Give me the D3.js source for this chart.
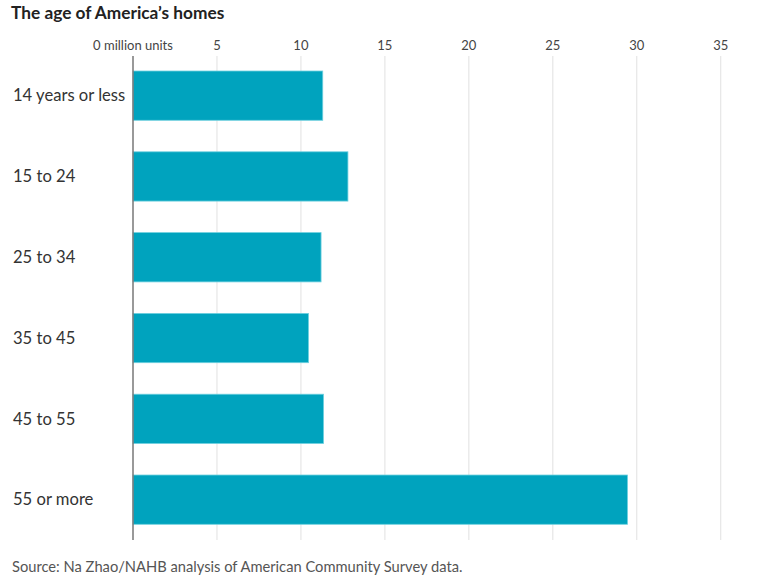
<!DOCTYPE html>
<html>
<head>
<meta charset="utf-8">
<script src="https://cdn.jsdelivr.net/npm/d3@7"></script>
<style>
  body { margin: 0; background: #fff; }
  text { font-family: Lato, "Open Sans", sans-serif; }
</style>
</head>
<body>
<div id="chart"></div>
<script>
const categories = ["14 years or less", "15 to 24", "25 to 34", "35 to 45", "45 to 55", "55 or more"];
const values = [11.3, 12.8, 11.2, 10.45, 11.35, 29.45];
const tickValues = [0, 5, 10, 15, 20, 25, 30, 35];
const tickLabels = ["0 million units", "5", "10", "15", "20", "25", "30", "35"];

const width = 777, height = 582;

const svg = d3.select("#chart")
    .append("svg")
    .attr("width", width)
    .attr("height", height);

const xScale = d3.scaleLinear()
    .domain([0, 35])
    .range([133, 720.7]);

const yScale = d3.scaleBand()
    .domain(categories)
    .range([71, 524.3])
    .paddingInner(0.39)
    .paddingOuter(0);

// title
svg.append("text")
    .attr("x", 11)
    .attr("y", 19)
    .attr("font-size", 17.3)
    .attr("font-weight", "bold")
    .attr("fill", "#222")
    .text("The age of America\u2019s homes");

// gridlines
svg.selectAll(".grid")
    .data(tickValues.slice(1))
    .join("line")
    .attr("class", "grid")
    .attr("x1", d => xScale(d))
    .attr("x2", d => xScale(d))
    .attr("y1", 56)
    .attr("y2", 540)
    .attr("stroke", "#e6e6e6")
    .attr("stroke-width", 1.2);

// tick labels
svg.selectAll(".tick-label")
    .data(tickValues)
    .join("text")
    .attr("class", "tick-label")
    .attr("x", d => xScale(d))
    .attr("y", 50)
    .attr("text-anchor", "middle")
    .attr("font-size", 13)
    .attr("fill", "#444")
    .text((d, i) => tickLabels[i]);

// bars
svg.selectAll(".bar")
    .data(categories)
    .join("rect")
    .attr("class", "bar")
    .attr("x", xScale(0))
    .attr("y", d => yScale(d))
    .attr("width", (d, i) => xScale(values[i]) - xScale(0))
    .attr("height", yScale.bandwidth())
    .attr("fill", "#00a3be")
    .attr("stroke", "#6fd0df")
    .attr("stroke-width", 0.8);

// baseline
svg.append("line")
    .attr("x1", xScale(0))
    .attr("x2", xScale(0))
    .attr("y1", 56)
    .attr("y2", 540)
    .attr("stroke", "#777")
    .attr("stroke-width", 1.5);

// category labels
svg.selectAll(".cat")
    .data(categories)
    .join("text")
    .attr("class", "cat")
    .attr("x", 13)
    .attr("y", d => yScale(d) + yScale.bandwidth() / 2)
    .attr("dy", "0.35em")
    .attr("font-size", 16.6)
    .attr("fill", "#333")
    .text(d => d);

// source
svg.append("text")
    .attr("x", 12)
    .attr("y", 572)
    .attr("font-size", 14.7)
    .attr("fill", "#555")
    .text("Source: Na Zhao/NAHB analysis of American Community Survey data.");
</script>
</body>
</html>
